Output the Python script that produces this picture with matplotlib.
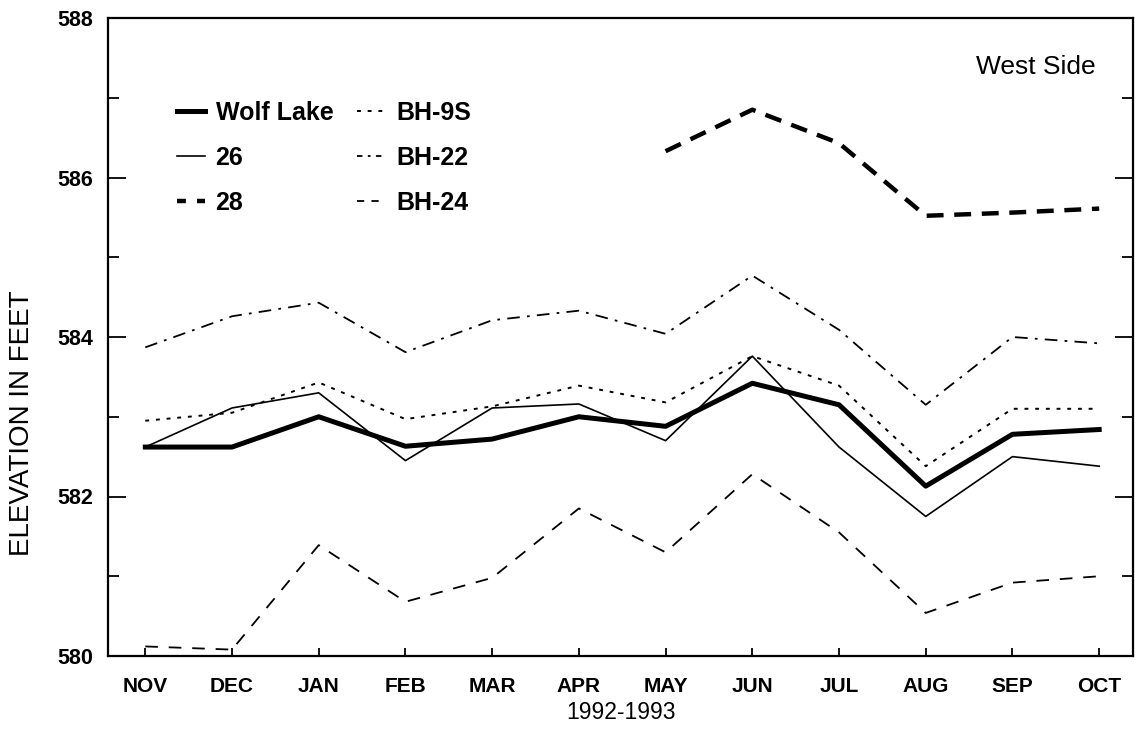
import numpy as np
import matplotlib
matplotlib.use("Agg")
import matplotlib.pyplot as plt
from matplotlib.lines import Line2D

plt.rcParams['font.family'] = ['Liberation Sans', 'DejaVu Sans']

months = ["NOV", "DEC", "JAN", "FEB", "MAR", "APR", "MAY", "JUN", "JUL", "AUG", "SEP", "OCT"]

wolf_lake = [582.62, 582.62, 583.00, 582.63, 582.72, 583.00, 582.88, 583.42, 583.15, 582.13, 582.78, 582.84]
well_26   = [582.62, 583.11, 583.30, 582.45, 583.11, 583.16, 582.70, 583.76, 582.62, 581.75, 582.50, 582.38]
well_28   = [np.nan, np.nan, np.nan, np.nan, np.nan, np.nan, 586.33, 586.85, 586.43, 585.52, 585.56, 585.61]
bh_9s     = [582.95, 583.05, 583.43, 582.97, 583.13, 583.39, 583.18, 583.76, 583.39, 582.38, 583.10, 583.10]
bh_22     = [583.87, 584.26, 584.43, 583.81, 584.21, 584.33, 584.04, 584.77, 584.09, 583.15, 584.00, 583.92]
bh_24     = [580.12, 580.08, 581.39, 580.68, 580.98, 581.85, 581.30, 582.28, 581.55, 580.54, 580.92, 581.00]

fig = plt.figure(figsize=(11.36, 7.36), dpi=100)
ax = fig.add_axes([108 / 1136, 1 - 656 / 736, (1133 - 108) / 1136, (656 - 18) / 736])

x = np.arange(len(months))
ax.plot(x, bh_24, color="black", lw=1.3, dashes=(7, 6))
ax.plot(x, bh_22, color="black", lw=1.3, dashes=(7, 4, 1.5, 4))
ax.plot(x, bh_9s, color="black", lw=1.4, dashes=(2, 3.5))
ax.plot(x, well_28, color="black", lw=3.2, dashes=(3.8, 2.4))
ax.plot(x, well_26, color="black", lw=1.2)
ax.plot(x, wolf_lake, color="black", lw=3.6, solid_joinstyle="round")

ax.set_xlim(-0.43, 11.39)
ax.set_ylim(580, 588)
ax.set_xticks(x)
ax.set_xticklabels(months, fontsize=15, fontweight="bold")
ax.set_yticks([580, 582, 584, 586, 588])
ax.set_yticks(np.arange(581, 588, 2), minor=True)
ax.tick_params(axis="y", which="major", direction="in", length=13, width=1.3,
               right=True, labelsize=15.5, pad=11)
ax.tick_params(axis="y", which="minor", direction="in", length=8, width=1.3, right=True)
ax.tick_params(axis="x", which="major", direction="in", length=6, width=1.3, pad=15)
for lab in ax.get_yticklabels():
    lab.set_fontweight("bold")
for sp in ax.spines.values():
    sp.set_linewidth(1.6)

ax.set_xlabel("1992-1993", fontsize=16.5, labelpad=4)
ax.set_ylabel("ELEVATION IN FEET", fontsize=20)
ax.yaxis.set_label_coords(-0.071, 0.365)

ax.text(0.964, 0.923, "West Side", transform=ax.transAxes, fontsize=19,
        ha="right", va="center")

handles = [
    Line2D([], [], color="black", lw=3.6),
    Line2D([], [], color="black", lw=1.2),
    Line2D([], [], color="black", lw=3.2, dashes=(2, 2.5)),
    Line2D([], [], color="black", lw=1.4, dashes=(2, 3.5)),
    Line2D([], [], color="black", lw=1.3, dashes=(3, 3, 1.5, 3)),
    Line2D([], [], color="black", lw=1.3, dashes=(4, 4)),
]
labels = ["Wolf Lake", "26", "28", "BH-9S", "BH-22", "BH-24"]
leg = ax.legend(handles, labels, ncol=2, loc="upper left",
                bbox_to_anchor=(0.045, 0.905), frameon=False,
                prop={"size": 18, "weight": "bold"},
                handlelength=1.12, handletextpad=0.44, labelspacing=0.83,
                columnspacing=0.95)

fig.savefig("out.png", dpi=100)
